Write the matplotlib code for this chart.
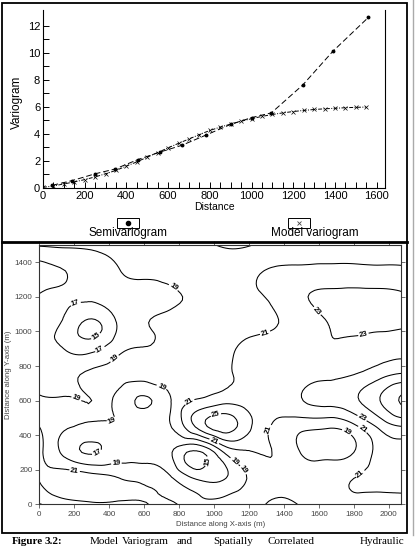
import numpy as np
import matplotlib
matplotlib.use('Agg')
import matplotlib.pyplot as plt
from matplotlib.patches import Rectangle
from matplotlib.lines import Line2D
from matplotlib.tri import Triangulation, UniformTriRefiner

# --- variogram data ---
semi_dist = [45, 140, 250, 345, 455, 560, 665, 780, 900, 1000, 1095, 1245, 1390, 1560]
semi_gamma = [0.2, 0.55, 1.05, 1.4, 2.1, 2.65, 3.15, 3.9, 4.7, 5.2, 5.55, 7.6, 10.1, 12.6]

model_dist = [0, 50, 100, 150, 200, 250, 300, 350, 400, 450, 500, 550, 600, 650, 700, 750,
              800, 850, 900, 950, 1000, 1050, 1100, 1150, 1200, 1250, 1300, 1350, 1400,
              1450, 1500, 1550]
model_gamma = [0.05, 0.15, 0.3, 0.45, 0.62, 0.82, 1.05, 1.3, 1.62, 1.93, 2.28, 2.62, 2.97,
               3.3, 3.62, 3.95, 4.25, 4.5, 4.72, 4.93, 5.12, 5.29, 5.43, 5.55, 5.65, 5.73,
               5.8, 5.85, 5.89, 5.93, 5.96, 5.98]

# --- hydraulic head field, estimated on a 150 m grid (rows from y=1500 down to y=0) ---
grid_x = [0, 150, 300, 450, 600, 750, 900, 1050, 1200, 1350, 1500, 1650, 1800, 1950, 2100]
grid_y = [1500, 1350, 1200, 1050, 900, 750, 600, 450, 300, 150, 0]
head = [
    [19.2, 19.4, 19.5, 19.7, 19.9, 20.0, 19.6, 18.8, 18.9, 19.8, 20.3, 20.5, 20.5, 20.6, 20.6],
    [16.4, 17.0, 17.9, 18.9, 19.3, 19.5, 19.9, 20.2, 20.6, 21.2, 21.4, 21.5, 21.5, 21.4, 21.3],
    [17.1, 17.2, 17.5, 18.2, 18.6, 18.8, 19.3, 20.0, 20.6, 21.4, 22.7, 23.4, 23.6, 23.6, 23.2],
    [17.3, 16.6, 14.6, 17.2, 18.9, 19.4, 19.8, 20.3, 20.5, 20.9, 22.0, 23.0, 23.5, 23.4, 23.2],
    [17.7, 16.9, 16.4, 18.4, 19.1, 19.6, 19.9, 20.5, 21.4, 21.8, 22.6, 22.8, 22.5, 22.5, 22.6],
    [18.5, 18.6, 19.3, 19.7, 19.8, 19.8, 20.1, 20.6, 21.5, 21.9, 22.3, 22.6, 23.0, 24.3, 25.3],
    [19.3, 19.1, 19.0, 18.6, 16.7, 18.9, 21.2, 22.3, 22.0, 21.9, 22.9, 23.6, 24.6, 27.0, 29.5],
    [21.0, 19.2, 18.7, 18.8, 18.7, 18.9, 23.3, 26.0, 23.4, 20.6, 19.6, 19.3, 20.5, 23.5, 25.0],
    [21.5, 18.4, 16.8, 18.0, 18.6, 17.3, 14.6, 18.8, 20.8, 20.9, 18.9, 18.4, 19.0, 21.8, 22.3],
    [21.1, 22.3, 22.0, 21.1, 20.5, 19.3, 16.8, 16.8, 19.2, 20.3, 20.2, 20.3, 21.0, 21.5, 21.6],
    [18.9, 20.0, 20.6, 20.7, 20.9, 21.3, 19.7, 19.8, 20.2, 18.3, 19.2, 20.0, 20.5, 20.6, 20.5],
]
levels = [15, 17, 19, 21, 23, 25, 27, 29]

# where the contour labels sit in the original
label_spots = [(785, 1279), (200, 1190), (296, 1012), (354, 885), (427, 847), (1300, 963),
               (1585, 1114), (1850, 1004), (210, 604), (695, 667), (871, 575), (1021, 478),
               (1005, 373), (1318, 430), (1746, 391), (1852, 507), (1861, 449), (1822, 198),
               (420, 470), (320, 325), (204, 210), (442, 230), (964, 247), (1099, 227),
               (1193, 218)]

caption_words = [("Figure", 12, True), ("3.2:", 45, True), ("Model", 90, False),
                 ("Variogram", 122, False), ("and", 177, False), ("Spatially", 213, False),
                 ("Correlated", 267, False), ("Hydraulic", 360, False)]

W, H = 415, 548


def main():
    plt.rcParams['font.family'] = ['Liberation Sans', 'DejaVu Sans']
    fig = plt.figure(figsize=(W / 100, H / 100), dpi=100)

    # ---------------- top panel: variogram ----------------
    ax1 = fig.add_axes([43 / W, 1 - 188 / H, 342 / W, 178 / H])
    ax1.plot(model_dist, model_gamma, color='k', lw=0.7, ls=(0, (4, 1.5, 1, 1.5)),
             marker='x', ms=2.2, mew=0.5)
    ax1.plot(semi_dist, semi_gamma, color='k', lw=0.7, ls=(0, (6, 3)),
             marker='o', ms=1.8)
    ax1.set_xlim(0, 1640)
    ax1.set_ylim(0, 13.15)
    ax1.set_xticks(range(0, 1601, 200))
    ax1.set_xticks(range(0, 1601, 50), minor=True)
    ax1.set_yticks(range(0, 13, 2))
    ax1.set_yticks(range(0, 13, 1), minor=True)
    ax1.tick_params(which='both', direction='in', length=4, width=0.7, labelsize=8, pad=2)
    ax1.spines['top'].set_visible(False)
    for s in ['left', 'bottom', 'right']:
        ax1.spines[s].set_linewidth(0.8)
    ax1.set_xlabel('Distance', fontsize=7.5, labelpad=1)
    fig.text(17 / W, 1 - 102 / H, 'Variogram', rotation=90, ha='center', va='center',
             fontsize=8.5)

    # legend boxes below the axis
    fig.add_artist(Rectangle((117 / W, 1 - 228 / H), 22 / W, 10 / H, fill=False, lw=0.7,
                             transform=fig.transFigure))
    fig.add_artist(Line2D([128 / W], [1 - 223 / H], marker='o', ms=3, color='k',
                          transform=fig.transFigure))
    fig.text(128 / W, 1 - 233 / H, 'Semivariogram', ha='center', va='center', fontsize=8.5)
    fig.add_artist(Rectangle((288 / W, 1 - 228 / H), 22 / W, 10 / H, fill=False, lw=0.7,
                             transform=fig.transFigure))
    fig.add_artist(Line2D([299 / W], [1 - 223 / H], marker='x', ms=3.5, mew=0.6,
                          color='#444444', transform=fig.transFigure))
    fig.text(315 / W, 1 - 233 / H, 'Model variogram', ha='center', va='center', fontsize=8.5)

    # ---------------- bottom panel: head contours ----------------
    ax2 = fig.add_axes([39.3 / W, 1 - 504.3 / H, (401 - 39.3) / W, (504.3 - 245) / H])
    gx, gy = np.meshgrid(grid_x, grid_y)
    tri = Triangulation(gx.ravel(), gy.ravel())
    tri_f, z_f = UniformTriRefiner(tri).refine_field(np.array(head).ravel(), subdiv=3)
    cs = ax2.tricontour(tri_f, z_f, levels=levels, colors='k', linewidths=0.75)
    ax2.clabel(cs, manual=label_spots, fmt='%d', fontsize=5.5, inline=True,
               inline_spacing=1)
    for t in cs.labelTexts:
        t.set_fontweight('bold')
    ax2.set_xlim(0, 2070)
    ax2.set_ylim(0, 1500)
    ax2.set_xticks(range(0, 2001, 200))
    ax2.set_yticks(range(0, 1401, 200))
    ax2.tick_params(which='both', direction='out', length=3, width=0.6, labelsize=5.8,
                    colors='#555555', labelcolor='#444444', top=True, right=True, pad=2)
    for s in ax2.spines.values():
        s.set_linewidth(0.8)
        s.set_color('#333333')
    ax2.set_xlabel('Distance along X-axis (m)', fontsize=5.6, color='#444444', labelpad=2)
    ax2.set_ylabel('Distance along Y-axis (m)', fontsize=5.6, color='#444444', labelpad=2)

    # ---------------- page frame and caption ----------------
    fig.add_artist(Rectangle((2 / W, 1 - 533 / H), 405 / W, 530 / H, fill=False, lw=1.3,
                             ec='k', transform=fig.transFigure))
    fig.add_artist(Line2D([2 / W, 407 / W], [1 - 241.5 / H] * 2, lw=2, color='k',
                          transform=fig.transFigure))
    fig.add_artist(Line2D([413 / W, 413 / W], [1 - 535 / H, 1.0], lw=1, color='#aaaaaa',
                          transform=fig.transFigure))
    for word, x, bold in caption_words:
        fig.text(x / W, 1 - 544.5 / H, word, ha='left', va='baseline', fontsize=8,
                 family=['Liberation Serif', 'DejaVu Serif'],
                 fontweight='bold' if bold else 'normal')

    fig.savefig('out.png', dpi=100)


if __name__ == '__main__':
    main()
